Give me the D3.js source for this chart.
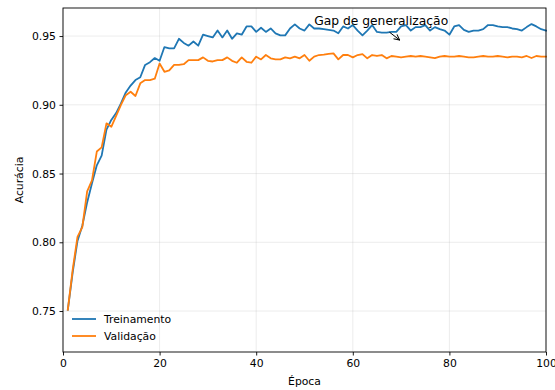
<!DOCTYPE html>
<html>
<head>
<meta charset="utf-8">
<script src="https://cdn.jsdelivr.net/npm/d3@7"></script>
<style>
  body { margin: 0; background: #fff; }
  svg { display: block; font-family: "DejaVu Sans", sans-serif; }
</style>
</head>
<body>
<svg id="chart" width="555" height="390"></svg>
<script>
// accuracy per epoch (1..100)
const treino = [
  0.751, 0.778, 0.801, 0.812, 0.829, 0.843, 0.856, 0.863, 0.882, 0.889,
  0.894, 0.901, 0.909, 0.914, 0.918, 0.920, 0.929, 0.931, 0.934, 0.932,
  0.942, 0.941, 0.941, 0.948, 0.945, 0.943, 0.946, 0.943, 0.951, 0.950,
  0.949, 0.954, 0.949, 0.954, 0.948, 0.952, 0.951, 0.957, 0.957, 0.953,
  0.956, 0.953, 0.9555, 0.952, 0.9505, 0.9505, 0.9555, 0.9585, 0.9555, 0.954,
  0.9585, 0.9555, 0.9555, 0.955, 0.9545, 0.954, 0.952, 0.957, 0.9555, 0.958,
  0.954, 0.9505, 0.954, 0.958, 0.953, 0.9525, 0.9525, 0.953, 0.953, 0.957,
  0.958, 0.954, 0.9565, 0.9565, 0.958, 0.954, 0.9565, 0.955, 0.954, 0.951,
  0.957, 0.958, 0.9545, 0.953, 0.954, 0.954, 0.955, 0.958, 0.958, 0.957,
  0.9565, 0.9565, 0.9555, 0.955, 0.954, 0.9565, 0.9587, 0.957, 0.955, 0.954
];
const validacao = [
  0.751, 0.780, 0.804, 0.811, 0.837, 0.845, 0.866, 0.869, 0.8865, 0.884,
  0.892, 0.900, 0.907, 0.9095, 0.9064, 0.9156, 0.918, 0.918, 0.919, 0.930,
  0.924, 0.925, 0.929, 0.929, 0.9295, 0.9325, 0.9325, 0.9325, 0.9345, 0.932,
  0.9315, 0.9325, 0.9325, 0.9345, 0.932, 0.9306, 0.9345, 0.9313, 0.9306, 0.935,
  0.933, 0.9362, 0.9338, 0.933, 0.933, 0.9345, 0.9338, 0.935, 0.9338, 0.9362,
  0.932, 0.935, 0.9362, 0.9365, 0.937, 0.9374, 0.933, 0.9362, 0.9362, 0.9345,
  0.9362, 0.9369, 0.9338, 0.9362, 0.9355, 0.9362, 0.9338, 0.9355, 0.935, 0.9345,
  0.935, 0.9355, 0.935, 0.9355, 0.935, 0.9345, 0.934, 0.935, 0.9355, 0.935,
  0.935, 0.9355, 0.935, 0.9345, 0.9345, 0.935, 0.9355, 0.935, 0.935, 0.9355,
  0.935, 0.9345, 0.935, 0.935, 0.9345, 0.9355, 0.934, 0.9355, 0.935, 0.935
];
const xTicks = [0, 20, 40, 60, 80, 100];
const yTicks = [0.75, 0.80, 0.85, 0.90, 0.95];
const series = [
  { name: "Treinamento", values: treino, color: "#1f77b4" },
  { name: "Validação", values: validacao, color: "#ff7f0e" }
];

const margin = { top: 8, right: 9, bottom: 38, left: 63 };
const width = 555, height = 390;
const svg = d3.select("#chart");

const x = d3.scaleLinear().domain([0, 100]).range([margin.left, width - margin.right]);
const y = d3.scaleLinear().domain([0.7202, 0.9704]).range([height - margin.bottom, margin.top]);

// grid
svg.append("g")
  .selectAll("line")
  .data(xTicks)
  .join("line")
    .attr("x1", d => x(d)).attr("x2", d => x(d))
    .attr("y1", y.range()[0]).attr("y2", y.range()[1])
    .attr("stroke", "#b0b0b0").attr("stroke-opacity", 0.3).attr("stroke-width", 0.8);
svg.append("g")
  .selectAll("line")
  .data(yTicks)
  .join("line")
    .attr("x1", x.range()[0]).attr("x2", x.range()[1])
    .attr("y1", d => y(d)).attr("y2", d => y(d))
    .attr("stroke", "#b0b0b0").attr("stroke-opacity", 0.3).attr("stroke-width", 0.8);

// lines
const line = d3.line()
  .x((d, i) => x(i + 1))
  .y(d => y(d));

svg.append("g")
  .selectAll("path")
  .data(series)
  .join("path")
    .attr("fill", "none")
    .attr("stroke", d => d.color)
    .attr("stroke-width", 1.8)
    .attr("stroke-linejoin", "round")
    .attr("stroke-linecap", "square")
    .attr("d", d => line(d.values));

// axes
const xAxis = svg.append("g")
  .attr("transform", `translate(0,${height - margin.bottom})`)
  .call(d3.axisBottom(x).tickValues(xTicks).tickFormat(d3.format("d")).tickSizeOuter(0).tickSize(3.5).tickPadding(3.5));
const yAxis = svg.append("g")
  .attr("transform", `translate(${margin.left},0)`)
  .call(d3.axisLeft(y).tickValues(yTicks).tickFormat(d3.format(".2f")).tickSizeOuter(0).tickSize(3.5).tickPadding(3.5));

[xAxis, yAxis].forEach(g => {
  g.select(".domain").remove();
  g.selectAll("line").attr("stroke", "#000").attr("stroke-width", 0.9);
  g.selectAll("text").attr("font-size", 10.8).attr("fill", "#000")
    .attr("font-family", "DejaVu Sans");
});

// frame
svg.append("rect")
  .attr("x", x.range()[0]).attr("y", y.range()[1])
  .attr("width", x.range()[1] - x.range()[0])
  .attr("height", y.range()[0] - y.range()[1])
  .attr("fill", "none").attr("stroke", "#000").attr("stroke-width", 0.9);

// axis labels
svg.append("text")
  .attr("x", (x.range()[0] + x.range()[1]) / 2)
  .attr("y", 385)
  .attr("text-anchor", "middle")
  .attr("font-size", 10.8)
  .text("Época");
svg.append("text")
  .attr("transform", `translate(23,${(y.range()[0] + y.range()[1]) / 2}) rotate(-90)`)
  .attr("text-anchor", "middle")
  .attr("font-size", 10.8)
  .text("Acurácia");

// annotation
const defs = svg.append("defs");
defs.append("marker")
  .attr("id", "head")
  .attr("viewBox", "0 0 10 10")
  .attr("refX", 9).attr("refY", 5)
  .attr("markerWidth", 7).attr("markerHeight", 7)
  .attr("orient", "auto")
  .append("path")
    .attr("d", "M1,1 L9,5 L1,9")
    .attr("fill", "none").attr("stroke", "#000").attr("stroke-width", 1.4);

svg.append("line")
  .attr("x1", x(67.6)).attr("y1", y(0.9528))
  .attr("x2", x(69.7)).attr("y2", y(0.9471))
  .attr("stroke", "#000").attr("stroke-width", 1)
  .attr("marker-end", "url(#head)");
svg.append("text")
  .attr("x", x(52)).attr("y", y(0.958))
  .attr("font-size", 12.3)
  .text("Gap de generalização");

// legend
const legend = svg.append("g")
  .attr("transform", `translate(${x.range()[0] + 9},${y.range()[0] - 33})`);
const item = legend.selectAll("g")
  .data(series)
  .join("g")
    .attr("transform", (d, i) => `translate(0,${i * 17})`);
item.append("line")
  .attr("x1", 0).attr("x2", 24)
  .attr("stroke", d => d.color).attr("stroke-width", 1.8);
item.append("text")
  .attr("x", 32).attr("y", 4)
  .attr("font-size", 10.8)
  .text(d => d.name);
</script>
</body>
</html>
